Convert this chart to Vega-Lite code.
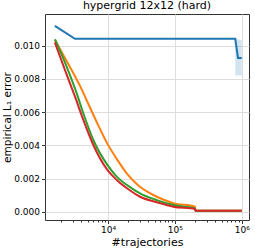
{
  "$schema": "https://vega.github.io/schema/vega-lite/v6.json",
  "width": 204,
  "height": 206,
  "autosize": "none",
  "padding": {"left": 45, "top": 14, "right": 6, "bottom": 28},
  "background": "white",
  "config": {
    "font": "DejaVu Sans",
    "view": {"stroke": "#333333", "strokeWidth": 1},
    "axis": {"labelFont": "DejaVu Sans", "titleFont": "DejaVu Sans", "labelColor": "#000000", "titleColor": "#000000", "titleFontWeight": "normal", "domain": false, "tickColor": "#333333", "gridColor": "#dddddd", "gridWidth": 1}
  },
  "title": {"text": "hypergrid 12x12 (hard)", "fontSize": 11, "fontWeight": "normal", "font": "DejaVu Sans", "color": "#000000", "offset": 3, "anchor": "middle"},
  "datasets": {
    "blue": [
      {"x": 1600, "y": 0.0112},
      {"x": 3200, "y": 0.01042},
      {"x": 800000, "y": 0.01042},
      {"x": 880000, "y": 0.00926},
      {"x": 1000000, "y": 0.00926}
    ],
    "lines": [
      {"s": "b", "x": 1609, "y": 0.01034},
      {"s": "b", "x": 2143, "y": 0.00944},
      {"s": "b", "x": 3027, "y": 0.00834},
      {"s": "b", "x": 3811, "y": 0.00758},
      {"s": "b", "x": 4798, "y": 0.00670},
      {"s": "b", "x": 6775, "y": 0.00540},
      {"s": "b", "x": 9760, "y": 0.00410},
      {"s": "b", "x": 13490, "y": 0.00318},
      {"s": "b", "x": 19050, "y": 0.00231},
      {"s": "b", "x": 28420, "y": 0.00158},
      {"s": "b", "x": 38000, "y": 0.00122},
      {"s": "b", "x": 53600, "y": 0.00090},
      {"s": "b", "x": 95000, "y": 0.00051},
      {"s": "b", "x": 200000, "y": 0.0003},
      {"s": "b", "x": 203000, "y": 0.00006},
      {"s": "b", "x": 1000000, "y": 0.00006},
      {"s": "c", "x": 1609, "y": 0.01039},
      {"s": "c", "x": 2410, "y": 0.00873},
      {"s": "c", "x": 3399, "y": 0.00713},
      {"s": "c", "x": 4265, "y": 0.00593},
      {"s": "c", "x": 6025, "y": 0.00432},
      {"s": "c", "x": 9760, "y": 0.00282},
      {"s": "c", "x": 13490, "y": 0.00211},
      {"s": "c", "x": 22650, "y": 0.00141},
      {"s": "c", "x": 30100, "y": 0.00111},
      {"s": "c", "x": 53600, "y": 0.0007},
      {"s": "c", "x": 95000, "y": 0.0004},
      {"s": "c", "x": 200000, "y": 0.0002},
      {"s": "c", "x": 203000, "y": 0.00006},
      {"s": "c", "x": 1000000, "y": 0.00006},
      {"s": "d", "x": 1600, "y": 0.0102},
      {"s": "d", "x": 2270, "y": 0.00853},
      {"s": "d", "x": 3206, "y": 0.00693},
      {"s": "d", "x": 4265, "y": 0.00553},
      {"s": "d", "x": 6025, "y": 0.00402},
      {"s": "d", "x": 9760, "y": 0.00252},
      {"s": "d", "x": 13490, "y": 0.00191},
      {"s": "d", "x": 20140, "y": 0.00135},
      {"s": "d", "x": 30100, "y": 0.0009},
      {"s": "d", "x": 53600, "y": 0.00057},
      {"s": "d", "x": 95000, "y": 0.0003},
      {"s": "d", "x": 200000, "y": 0.00016},
      {"s": "d", "x": 203000, "y": 0.00006},
      {"s": "d", "x": 1000000, "y": 0.00006}
    ],
    "band": [
      {"x": 800000, "lo": 0.0082, "hi": 0.01042},
      {"x": 1000000, "lo": 0.0082, "hi": 0.01034}
    ]
  },
  "layer": [
    {
      "data": {"name": "band"},
      "mark": {"type": "area", "color": "#1f77b4", "opacity": 0.2},
      "encoding": {
        "x": {"field": "x", "type": "quantitative",
          "scale": {"type": "log", "domain": [1140, 1285000], "nice": false},
          "axis": {
            "values": [2000,3000,4000,5000,6000,7000,8000,9000,10000,20000,30000,40000,50000,60000,70000,80000,90000,100000,200000,300000,400000,500000,600000,700000,800000,900000,1000000],
            "labelExpr": "datum.value == 10000 ? '10⁴' : datum.value == 100000 ? '10⁵' : datum.value == 1000000 ? '10⁶' : ''",
            "labelFontSize": 9, "labelOverlap": false, "labelPadding": 2,
            "tickSize": {"condition": {"test": "datum.value == 10000 || datum.value == 100000 || datum.value == 1000000", "value": 3.5}, "value": 2},
            "gridOpacity": {"condition": {"test": "datum.value == 10000 || datum.value == 100000 || datum.value == 1000000", "value": 1}, "value": 0},
            "title": "#trajectories", "titleFontSize": 11, "titlePadding": 2
          }},
        "y": {"field": "lo", "type": "quantitative",
          "scale": {"domain": [-0.0005, 0.01191], "nice": false, "zero": false},
          "axis": {"values": [0, 0.002, 0.004, 0.006, 0.008, 0.01], "format": ".3f", "labelFontSize": 9, "tickSize": 3.5, "labelPadding": 2, "title": "empirical L₁ error", "titleFontSize": 10.5, "titlePadding": 1}},
        "y2": {"field": "hi"}
      }
    },
    {
      "data": {"name": "blue"},
      "mark": {"type": "line", "strokeWidth": 2, "color": "#1f77b4"},
      "encoding": {
        "x": {"field": "x", "type": "quantitative"},
        "y": {"field": "y", "type": "quantitative"}
      }
    },
    {
      "data": {"name": "lines"},
      "mark": {"type": "line", "strokeWidth": 2, "interpolate": "monotone"},
      "encoding": {
        "x": {"field": "x", "type": "quantitative"},
        "y": {"field": "y", "type": "quantitative"},
        "color": {"field": "s", "type": "nominal", "legend": null,
          "scale": {"domain": ["b", "c", "d"], "range": ["#ff7f0e", "#2ca02c", "#d62728"]}}
      }
    }
  ]
}
